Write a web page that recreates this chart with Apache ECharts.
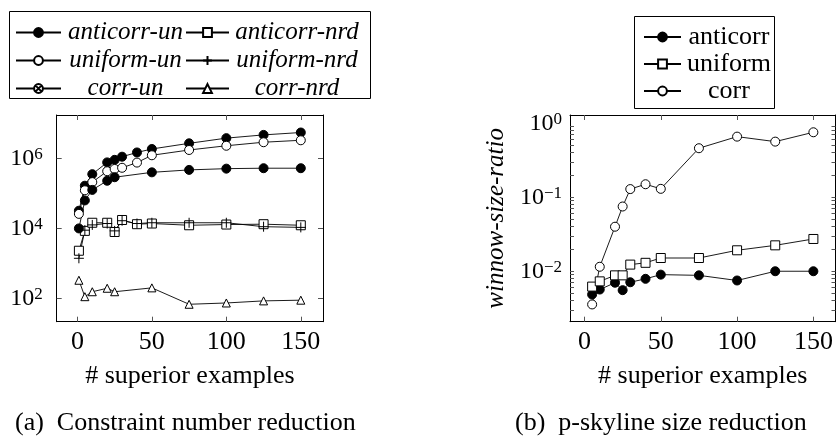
<!DOCTYPE html>
<html>
<head>
<meta charset="utf-8">
<script src="https://cdn.jsdelivr.net/npm/echarts@6/dist/echarts.min.js"></script>
<style>
html, body { margin: 0; padding: 0; background: #fff; }
#main { width: 836px; height: 438px; }
</style>
</head>
<body>
<div id="main"></div>
<script>
// (a) constraint number reduction
var xUn = [1, 5, 10, 20, 25, 30, 40, 50, 75, 100, 125, 150];
var xCorr = [1, 5, 10, 20, 25, 50, 75, 100, 125, 150];
var anticorrUn = [32000, 166000, 355000, 770000, 910000, 1120000, 1480000, 1860000, 2700000, 3800000, 4700000, 5500000];
var uniformUn = [26000, 123000, 210000, 430000, 500000, 540000, 760000, 1230000, 1740000, 2300000, 2900000, 3300000];
var corrUn = [10000, 63000, 126000, 230000, 290000, 400000, 470000, 510000, 525000, 525000];
var anticorrNrd = [2300, 8500, 14500, 14500, 7900, 17400, 13200, 13800, 12300, 12900, 13200, 12300];
var uniformNrd = [1400, 8900, 12600, 13800, 8500, 16600, 13800, 14500, 14500, 14500, 11200, 10700];
var corrNrd = [330, 112, 155, 195, 155, 200, 68, 74, 85, 89];

// (b) p-skyline size reduction
var xB = [5, 10, 20, 25, 30, 40, 50, 75, 100, 125, 150];
var anticorrB = [0.00485, 0.00566, 0.0070, 0.00555, 0.0071, 0.0079, 0.0090, 0.0088, 0.0075, 0.0100, 0.0100];
var uniformB = [0.0062, 0.0073, 0.0088, 0.0088, 0.0123, 0.0130, 0.0151, 0.0151, 0.0192, 0.0224, 0.0273];
var corrB = [0.00356, 0.0115, 0.040, 0.075, 0.129, 0.150, 0.130, 0.46, 0.66, 0.565, 0.756];

var xTicks = [0, 50, 100, 150];
var yTicksA = [100, 10000, 1000000];
var yTicksB = [0.01, 0.1, 1];

var FONT = 'Liberation Serif';

function pairs(xs, ys) {
    var out = [];
    for (var i = 0; i < ys.length; i++) out.push([xs[i], ys[i]]);
    return out;
}

// minor ticks 2..9 of each decade on the ratio axis
var minorB = [];
[0.001, 0.01, 0.1].forEach(function (d) {
    for (var k = 1; k <= 9; k++) {
        var v = k * d;
        if (v > 0.00208 && v < 1.294) minorB.push(v);
    }
});

function powLabel(v) {
    var e = Math.round(Math.log10(v));
    return '{b|10}{s|' + (e < 0 ? '\u2212' + (-e) : e) + '}';
}
var powRich = {
    b: { fontSize: 24, fontFamily: FONT, color: '#000', lineHeight: 24, padding: [10, 0, 0, 0], verticalAlign: 'bottom' },
    s: { fontSize: 17, fontFamily: FONT, color: '#000', lineHeight: 17, verticalAlign: 'top' }
};

var frameLine = { show: true, onZero: false, lineStyle: { color: '#000', width: 1 } };
function ticks(len) {
    return { show: true, inside: true, length: len, lineStyle: { color: '#555', width: 1 } };
}

function xAx(grid, pos, min, max, named) {
    return {
        type: 'value', gridIndex: grid, position: pos, min: min, max: max,
        axisLine: frameLine,
        axisTick: Object.assign({ customValues: xTicks }, ticks(5)),
        axisLabel: { show: pos == 'bottom', customValues: xTicks, margin: 7, fontSize: 26, fontFamily: FONT, color: '#000' },
        splitLine: { show: false },
        name: named ? '# superior examples' : '',
        nameLocation: 'middle', nameGap: 41,
        nameTextStyle: { fontSize: 26, fontFamily: FONT, color: '#000' }
    };
}
function yAx(grid, pos, min, max, tickVals, labels, margin, len) {
    return {
        type: 'log', logBase: 10, gridIndex: grid, position: pos, min: min, max: max,
        axisLine: frameLine,
        axisTick: Object.assign({ customValues: tickVals }, ticks(len)),
        axisLabel: { show: pos == 'left', customValues: labels, margin: margin, formatter: powLabel, rich: powRich },
        splitLine: { show: false }
    };
}

var plusPath = 'path://M5,0L5,10M0,5L10,5';
var otimesPath = 'path://M0,5A5,5,0,1,1,10,5A5,5,0,1,1,0,5ZM1.46,1.46L8.54,8.54M8.54,1.46L1.46,8.54';

function line(name, data, symbol, filled, xi, yi, size) {
    return {
        name: name, type: 'line', xAxisIndex: xi, yAxisIndex: yi,
        data: data, symbol: symbol, symbolSize: size || 9, showSymbol: true,
        lineStyle: { color: '#000', width: 0.9 },
        itemStyle: { color: filled ? '#000' : '#fff', borderColor: '#000', borderWidth: 1, opacity: 1 },
        emphasis: { disabled: true },
        animation: false, clip: false
    };
}

var chart = echarts.init(document.getElementById('main'));

var option = {
    animation: false,
    textStyle: { fontFamily: FONT, color: '#000' },
    grid: [
        { left: 56.7, top: 115, width: 266.3, height: 206.7 },
        { left: 570, top: 115, width: 265.5, height: 206.7 }
    ],
    xAxis: [
        xAx(0, 'bottom', -13.9, 164.9, true),
        xAx(0, 'top', -13.9, 164.9, false),
        xAx(1, 'bottom', -9.5, 164.5, true),
        xAx(1, 'top', -9.5, 164.5, false)
    ],
    yAxis: [
        yAx(0, 'left', 21.6, 17400000, yTicksA, yTicksA, 14, 5),
        yAx(0, 'right', 21.6, 17400000, yTicksA, yTicksA, 14, 5),
        Object.assign(yAx(1, 'left', 0.00208, 1.294, minorB, yTicksB, 8, 4), {
            name: 'winnow-size-ratio', nameLocation: 'middle', nameGap: 61,
            nameTextStyle: { fontSize: 25, fontStyle: 'italic', fontFamily: FONT, color: '#000' }
        }),
        yAx(1, 'right', 0.00208, 1.294, minorB, yTicksB, 8, 4)
    ],
    legend: [
        {
            data: ['anticorr-un', 'uniform-un', 'corr-un'], orient: 'vertical',
            left: 10, top: 15, itemGap: 3, itemWidth: 45, itemHeight: 11, selectedMode: false,
            formatter: '{t|{name}}',
            textStyle: { rich: { t: { width: 119, align: 'center', fontSize: 25, fontStyle: 'italic', fontFamily: FONT, color: '#000' } } }
        },
        {
            data: ['anticorr-nrd', 'uniform-nrd', 'corr-nrd'], orient: 'vertical',
            left: 180, top: 15, itemGap: 3, itemWidth: 43, itemHeight: 11, selectedMode: false,
            formatter: '{t|{name}}',
            textStyle: { rich: { t: { width: 126, align: 'center', fontSize: 25, fontStyle: 'italic', fontFamily: FONT, color: '#000' } } }
        },
        {
            data: ['anticorr', 'uniform', 'corr'], orient: 'vertical',
            left: 638, top: 19, itemGap: 1, itemWidth: 37, itemHeight: 11, selectedMode: false,
            formatter: '{t|{name}}',
            textStyle: { rich: { t: { width: 86, align: 'center', fontSize: 26, fontFamily: FONT, color: '#000' } } }
        }
    ],
    series: [
        // legend-only entry so the key shows the crossed circle
        line('corr-un', [], otimesPath, false, 0, 0),
        line('anticorr-un', pairs(xUn, anticorrUn), 'circle', true, 0, 0),
        line('anticorr-nrd', pairs(xUn, anticorrNrd), 'rect', false, 0, 0),
        line('uniform-un', pairs(xUn, uniformUn), 'circle', false, 0, 0),
        line('uniform-nrd', pairs(xUn, uniformNrd), plusPath, true, 0, 0, 10),
        line('corr-un', pairs(xCorr, corrUn), 'circle', true, 0, 0),
        line('corr-nrd', pairs(xCorr, corrNrd), 'triangle', false, 0, 0, 8),
        line('anticorr', pairs(xB, anticorrB), 'circle', true, 2, 2),
        line('uniform', pairs(xB, uniformB), 'rect', false, 2, 2),
        line('corr', pairs(xB, corrB), 'circle', false, 2, 2)
    ],
    graphic: [
        { type: 'rect', shape: { x: 9.5, y: 11.5, width: 361, height: 87 }, style: { fill: 'none', stroke: '#000', lineWidth: 1 }, silent: true },
        { type: 'rect', shape: { x: 634.5, y: 16.5, width: 140, height: 92 }, style: { fill: 'none', stroke: '#000', lineWidth: 1 }, silent: true },
        { type: 'text', left: 15, top: 410, style: { text: '(a)  Constraint number reduction', font: '26px "Liberation Serif"', fill: '#000' }, silent: true },
        { type: 'text', left: 515, top: 410, style: { text: '(b)  p-skyline size reduction', font: '26px "Liberation Serif"', fill: '#000' }, silent: true }
    ]
};

chart.setOption(option);
</script>
</body>
</html>
